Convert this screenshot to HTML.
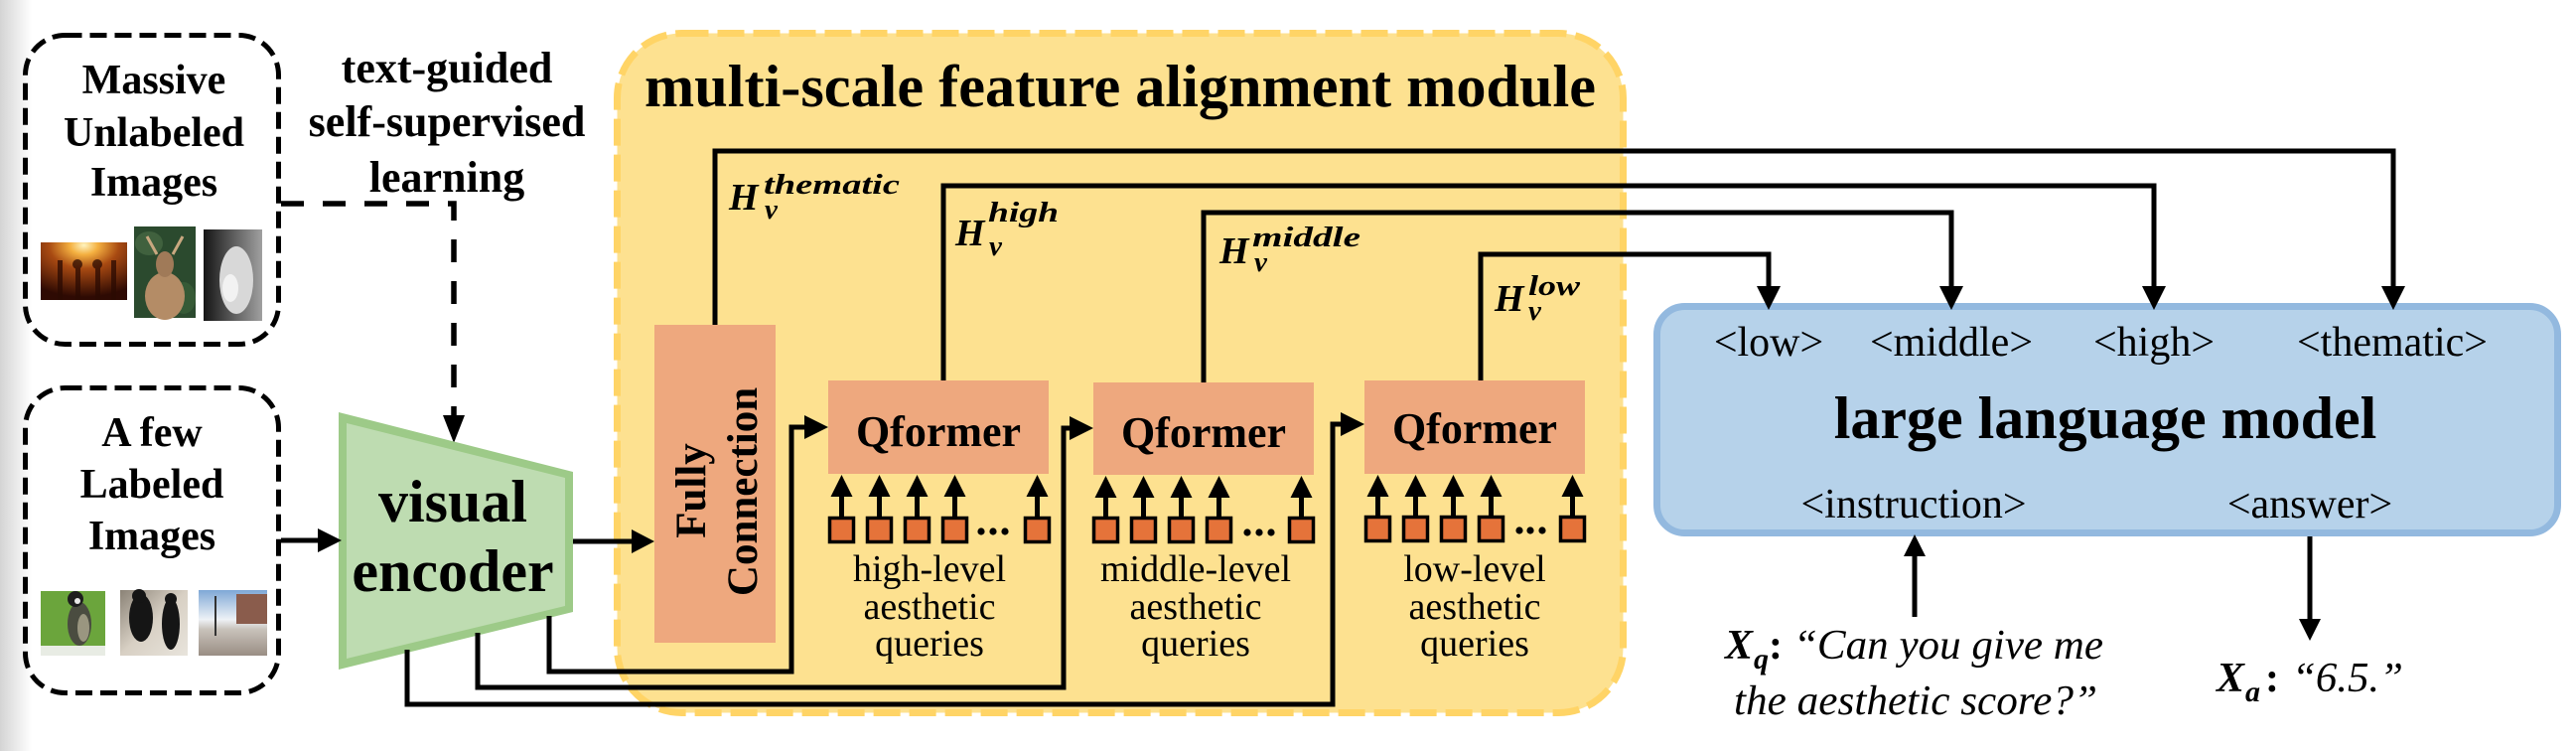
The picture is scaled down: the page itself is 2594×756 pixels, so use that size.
<!DOCTYPE html>
<html>
<head>
<meta charset="utf-8">
<style>
html,body{margin:0;padding:0;background:#fff;}
svg{display:block;font-family:"Liberation Serif","Times New Roman",serif;}
text{font-family:"Liberation Serif","Times New Roman",serif;fill:#000;}
.b{font-weight:bold;}
.bi{font-weight:bold;font-style:italic;}
.i{font-style:italic;}
</style>
</head>
<body>
<svg width="2594" height="756" viewBox="0 0 2594 756" xmlns="http://www.w3.org/2000/svg" font-family="Liberation Serif, serif">
<defs>
  <linearGradient id="lg" x1="0" x2="1" y1="0" y2="0">
    <stop offset="0" stop-color="#d4d4d4"/>
    <stop offset="1" stop-color="#ffffff"/>
  </linearGradient>
  <radialGradient id="img1g" cx="0.5" cy="0.05" r="0.9">
    <stop offset="0" stop-color="#fff4c0"/>
    <stop offset="0.18" stop-color="#f4b040"/>
    <stop offset="0.45" stop-color="#a84a12"/>
    <stop offset="1" stop-color="#2e0a03"/>
  </radialGradient>
  <linearGradient id="img3g" x1="0" x2="1" y1="0" y2="0">
    <stop offset="0" stop-color="#151515"/>
    <stop offset="0.6" stop-color="#6a6a6a"/>
    <stop offset="1" stop-color="#a0a0a0"/>
  </linearGradient>
  <linearGradient id="streetg" x1="0" x2="0" y1="0" y2="1">
    <stop offset="0" stop-color="#7fa8d6"/>
    <stop offset="0.45" stop-color="#eef2f6"/>
    <stop offset="0.6" stop-color="#c8c2ba"/>
    <stop offset="1" stop-color="#9a8e84"/>
  </linearGradient>
  <linearGradient id="peopleg" x1="0" x2="1" y1="0" y2="1">
    <stop offset="0" stop-color="#8a8276"/>
    <stop offset="0.5" stop-color="#d8d0c4"/>
    <stop offset="1" stop-color="#e8e4dc"/>
  </linearGradient>
</defs>

<rect width="2594" height="756" fill="#fff"/>
<rect x="0" y="0" width="32" height="756" fill="url(#lg)"/>

<!-- Left dashed boxes -->
<rect x="25.5" y="35.5" width="255" height="311" rx="40" fill="none" stroke="#000" stroke-width="5" stroke-dasharray="17 8"/>
<rect x="25.5" y="390.5" width="255" height="307" rx="40" fill="none" stroke="#000" stroke-width="5" stroke-dasharray="17 8"/>

<text class="b" x="155" y="94" font-size="42" text-anchor="middle">Massive</text>
<text class="b" x="155" y="147" font-size="42" text-anchor="middle">Unlabeled</text>
<text class="b" x="155" y="197" font-size="42" text-anchor="middle">Images</text>

<text class="b" x="153" y="449" font-size="42" text-anchor="middle">A few</text>
<text class="b" x="153" y="501" font-size="42" text-anchor="middle">Labeled</text>
<text class="b" x="153" y="553" font-size="42" text-anchor="middle">Images</text>

<!-- images box1 -->
<rect x="41" y="244" width="87" height="58" fill="url(#img1g)"/>
<g fill="#2a0a02" opacity="0.75">
  <rect x="58" y="262" width="5" height="40"/>
  <circle cx="78" cy="266" r="5"/><rect x="76" y="270" width="5" height="32"/>
  <circle cx="98" cy="266" r="5"/><rect x="96" y="270" width="5" height="32"/>
  <rect x="112" y="262" width="5" height="40"/>
</g>
<rect x="135" y="228" width="62" height="92" fill="#2b4a2e"/>
<ellipse cx="150" cy="245" rx="14" ry="12" fill="#40613e"/>
<ellipse cx="185" cy="300" rx="12" ry="16" fill="#365a36"/>
<ellipse cx="166" cy="298" rx="20" ry="24" fill="#b48c66"/>
<ellipse cx="166" cy="266" rx="9" ry="13" fill="#a07a58"/>
<path d="M158 256 L148 238 M174 256 L184 238" stroke="#c9a880" stroke-width="3"/>
<rect x="205" y="231" width="59" height="92" fill="url(#img3g)"/>
<ellipse cx="238" cy="282" rx="17" ry="34" fill="#d8d8d8"/>
<ellipse cx="232" cy="290" rx="8" ry="14" fill="#f2f2f2"/>

<!-- images box2 -->
<rect x="41" y="595" width="65" height="65" fill="#6ba53c"/>
<rect x="41" y="650" width="65" height="10" fill="#e8ece4"/>
<ellipse cx="80" cy="628" rx="12" ry="22" fill="#4a4c40"/>
<ellipse cx="84" cy="632" rx="6" ry="14" fill="#9a9680"/>
<circle cx="76" cy="603" r="8" fill="#1e1e1e"/>
<circle cx="78" cy="605" r="3" fill="#e8e8e8"/>
<rect x="121" y="594" width="68" height="66" fill="url(#peopleg)"/>
<ellipse cx="142" cy="622" rx="12" ry="24" fill="#151515"/>
<circle cx="140" cy="600" r="7" fill="#151515"/>
<ellipse cx="172" cy="628" rx="9" ry="26" fill="#151515"/>
<circle cx="172" cy="603" r="6" fill="#151515"/>
<rect x="200" y="594" width="69" height="66" fill="url(#streetg)"/>
<rect x="238" y="598" width="31" height="30" fill="#8a5c4c"/>
<rect x="216" y="600" width="2" height="40" fill="#333"/>

<!-- text-guided label -->
<text class="b" x="450" y="83" font-size="44" text-anchor="middle">text-guided</text>
<text class="b" x="450" y="137" font-size="44" text-anchor="middle">self-supervised</text>
<text class="b" x="450" y="193" font-size="44" text-anchor="middle">learning</text>

<!-- dashed connector -->
<path d="M283 205 H457 V420" fill="none" stroke="#000" stroke-width="5.5" stroke-dasharray="23 19"/>
<polygon points="446,418 468,418 457,446" fill="#000"/>

<!-- visual encoder -->
<polygon points="341,415 577,475 577,616 341,674" fill="#9dca88"/>
<polygon points="349,426 569,481 569,610 349,663" fill="#bedcb1"/>
<text class="b" x="456" y="525" font-size="60" text-anchor="middle">visual</text>
<text class="b" x="456" y="595" font-size="60" text-anchor="middle">encoder</text>

<!-- arrow box2 -> encoder -->
<line x1="283" y1="544" x2="322" y2="544" stroke="#000" stroke-width="5"/>
<polygon points="320,532 320,556 344,544" fill="#000"/>

<!-- Yellow module -->
<rect x="621.5" y="33.5" width="1013" height="684" rx="65" fill="#fde190" stroke="#ffd466" stroke-width="7" stroke-dasharray="27 9"/>
<text class="b" x="649" y="107" font-size="60" textLength="958" lengthAdjust="spacingAndGlyphs">multi-scale feature alignment module</text>

<!-- arrow encoder -> FC -->
<line x1="577" y1="545" x2="638" y2="545" stroke="#000" stroke-width="5"/>
<polygon points="636,533 636,557 659,545" fill="#000"/>

<!-- FC box -->
<rect x="659" y="327" width="122" height="320" fill="#eea87e"/>
<text class="b" font-size="43" text-anchor="middle" transform="translate(710,494) rotate(-90)">Fully</text>
<text class="b" font-size="43" text-anchor="middle" transform="translate(762,495) rotate(-90)">Connection</text>

<!-- Qformers -->
<rect x="834" y="383" width="222" height="94" fill="#eea87e"/>
<rect x="1101" y="385" width="222" height="93" fill="#eea87e"/>
<rect x="1374" y="383" width="222" height="94" fill="#eea87e"/>
<text class="b" x="945" y="449" font-size="44" text-anchor="middle">Qformer</text>
<text class="b" x="1212" y="450" font-size="44" text-anchor="middle">Qformer</text>
<text class="b" x="1485" y="446" font-size="44" text-anchor="middle">Qformer</text>

<!-- query squares and arrows -->
<g fill="#e5733a" stroke="#000" stroke-width="3.5">
  <rect x="835.5" y="521.5" width="24" height="24"/>
  <rect x="873.5" y="521.5" width="24" height="24"/>
  <rect x="911.5" y="521.5" width="24" height="24"/>
  <rect x="949.5" y="521.5" width="24" height="24"/>
  <rect x="1032.5" y="521.5" width="24" height="24"/>
  <rect x="1101.5" y="521.5" width="24" height="24"/>
  <rect x="1139.5" y="521.5" width="24" height="24"/>
  <rect x="1177.5" y="521.5" width="24" height="24"/>
  <rect x="1215.5" y="521.5" width="24" height="24"/>
  <rect x="1298.5" y="521.5" width="24" height="24"/>
  <rect x="1375.5" y="520.5" width="24" height="24"/>
  <rect x="1413.5" y="520.5" width="24" height="24"/>
  <rect x="1451.5" y="520.5" width="24" height="24"/>
  <rect x="1489.5" y="520.5" width="24" height="24"/>
  <rect x="1571.5" y="520.5" width="24" height="24"/>
</g>
<g stroke="#000" stroke-width="5">
  <line x1="847.5" y1="520" x2="847.5" y2="498"/>
  <line x1="885.5" y1="520" x2="885.5" y2="498"/>
  <line x1="923.5" y1="520" x2="923.5" y2="498"/>
  <line x1="961.5" y1="520" x2="961.5" y2="498"/>
  <line x1="1044.5" y1="520" x2="1044.5" y2="498"/>
  <line x1="1113.5" y1="520" x2="1113.5" y2="498"/>
  <line x1="1151.5" y1="520" x2="1151.5" y2="498"/>
  <line x1="1189.5" y1="520" x2="1189.5" y2="498"/>
  <line x1="1227.5" y1="520" x2="1227.5" y2="498"/>
  <line x1="1310.5" y1="520" x2="1310.5" y2="498"/>
  <line x1="1387.5" y1="519" x2="1387.5" y2="498"/>
  <line x1="1425.5" y1="519" x2="1425.5" y2="498"/>
  <line x1="1463.5" y1="519" x2="1463.5" y2="498"/>
  <line x1="1501.5" y1="519" x2="1501.5" y2="498"/>
  <line x1="1583.5" y1="519" x2="1583.5" y2="498"/>
</g>
<g fill="#000">
  <polygon points="836.5,500 858.5,500 847.5,478"/>
  <polygon points="874.5,500 896.5,500 885.5,478"/>
  <polygon points="912.5,500 934.5,500 923.5,478"/>
  <polygon points="950.5,500 972.5,500 961.5,478"/>
  <polygon points="1033.5,500 1055.5,500 1044.5,478"/>
  <polygon points="1102.5,501 1124.5,501 1113.5,479"/>
  <polygon points="1140.5,501 1162.5,501 1151.5,479"/>
  <polygon points="1178.5,501 1200.5,501 1189.5,479"/>
  <polygon points="1216.5,501 1238.5,501 1227.5,479"/>
  <polygon points="1299.5,501 1321.5,501 1310.5,479"/>
  <polygon points="1376.5,500 1398.5,500 1387.5,478"/>
  <polygon points="1414.5,500 1436.5,500 1425.5,478"/>
  <polygon points="1452.5,500 1474.5,500 1463.5,478"/>
  <polygon points="1490.5,500 1512.5,500 1501.5,478"/>
  <polygon points="1572.5,500 1594.5,500 1583.5,478"/>
  <circle cx="988" cy="535" r="3.6"/><circle cx="1000" cy="535" r="3.6"/><circle cx="1012" cy="535" r="3.6"/>
  <circle cx="1256" cy="536" r="3.6"/><circle cx="1268" cy="536" r="3.6"/><circle cx="1280" cy="536" r="3.6"/>
  <circle cx="1530" cy="534" r="3.6"/><circle cx="1541" cy="534" r="3.6"/><circle cx="1553" cy="534" r="3.6"/>
</g>

<!-- query labels -->
<text x="936" y="585" font-size="38" text-anchor="middle">high-level</text>
<text x="936" y="623" font-size="38" text-anchor="middle">aesthetic</text>
<text x="936" y="660" font-size="38" text-anchor="middle">queries</text>
<text x="1204" y="585" font-size="38" text-anchor="middle">middle-level</text>
<text x="1204" y="623" font-size="38" text-anchor="middle">aesthetic</text>
<text x="1204" y="660" font-size="38" text-anchor="middle">queries</text>
<text x="1485" y="585" font-size="38" text-anchor="middle">low-level</text>
<text x="1485" y="623" font-size="38" text-anchor="middle">aesthetic</text>
<text x="1485" y="660" font-size="38" text-anchor="middle">queries</text>

<!-- encoder -> Qformer connectors -->
<g fill="none" stroke="#000" stroke-width="5" stroke-linejoin="miter">
  <path d="M553 620 V676 H797 V430 H812"/>
  <path d="M481 637 V692 H1071 V431 H1079"/>
  <path d="M410 654 V709 H1342 V427 H1352"/>
</g>
<g fill="#000">
  <polygon points="810,418 810,442 834,430"/>
  <polygon points="1077,419 1077,443 1101,431"/>
  <polygon points="1350,415 1350,439 1374,427"/>
</g>

<!-- LLM box -->
<rect x="1668.5" y="308.5" width="907" height="228" rx="28" fill="#b6d2ea" stroke="#93b9df" stroke-width="7"/>

<!-- top connectors -->
<g fill="none" stroke="#000" stroke-width="5" stroke-linejoin="miter">
  <path d="M720 327 V152 H2410 V290"/>
  <path d="M950 383 V187 H2169 V290"/>
  <path d="M1212 385 V214 H1965 V290"/>
  <path d="M1491 383 V256 H1781 V290"/>
</g>
<g fill="#000">
  <polygon points="2398,288 2422,288 2410,312"/>
  <polygon points="2157,288 2181,288 2169,312"/>
  <polygon points="1953,288 1977,288 1965,312"/>
  <polygon points="1769,288 1793,288 1781,312"/>
</g>

<!-- H labels -->
<text class="bi" x="734" y="211" font-size="38">H</text>
<text class="bi" x="769" y="195" font-size="29" textLength="137" lengthAdjust="spacingAndGlyphs">thematic</text>
<text class="bi" x="770" y="220" font-size="29">v</text>

<text class="bi" x="962" y="247" font-size="38">H</text>
<text class="bi" x="995" y="223" font-size="29" textLength="71" lengthAdjust="spacingAndGlyphs">high</text>
<text class="bi" x="996" y="257" font-size="29">v</text>

<text class="bi" x="1228" y="265" font-size="38">H</text>
<text class="bi" x="1261" y="248" font-size="29" textLength="109" lengthAdjust="spacingAndGlyphs">middle</text>
<text class="bi" x="1263" y="273" font-size="29">v</text>

<text class="bi" x="1505" y="313" font-size="38">H</text>
<text class="bi" x="1539" y="297" font-size="29" textLength="52" lengthAdjust="spacingAndGlyphs">low</text>
<text class="bi" x="1539" y="322" font-size="29">v</text>

<!-- LLM texts -->
<text x="1781" y="358" font-size="42" text-anchor="middle">&lt;low&gt;</text>
<text x="1965" y="358" font-size="42" text-anchor="middle">&lt;middle&gt;</text>
<text x="2169" y="358" font-size="42" text-anchor="middle">&lt;high&gt;</text>
<text x="2409" y="358" font-size="42" text-anchor="middle">&lt;thematic&gt;</text>
<text class="b" x="2120" y="441" font-size="60" text-anchor="middle">large language model</text>
<text x="1927" y="521" font-size="42" text-anchor="middle">&lt;instruction&gt;</text>
<text x="2326" y="521" font-size="42" text-anchor="middle">&lt;answer&gt;</text>

<!-- instruction / answer arrows -->
<line x1="1928" y1="621" x2="1928" y2="558" stroke="#000" stroke-width="5"/>
<polygon points="1917,560 1939,560 1928,538" fill="#000"/>
<line x1="2326" y1="540" x2="2326" y2="625" stroke="#000" stroke-width="5"/>
<polygon points="2315,623 2337,623 2326,645" fill="#000"/>

<!-- Xq / Xa -->
<text class="bi" x="1737" y="663" font-size="42">X</text>
<text class="bi" x="1766" y="673" font-size="30">q</text>
<text class="b" x="1781" y="663" font-size="42">:</text>
<text class="i" x="1806" y="663" font-size="42" textLength="312" lengthAdjust="spacingAndGlyphs">“Can you give me</text>
<text class="i" x="1746" y="719" font-size="42" textLength="366" lengthAdjust="spacingAndGlyphs">the aesthetic score?”</text>

<text class="bi" x="2232" y="696" font-size="42">X</text>
<text class="bi" x="2261" y="706" font-size="30">a</text>
<text class="b" x="2281" y="696" font-size="42">:</text>
<text class="i" x="2308" y="696" font-size="42" textLength="112" lengthAdjust="spacingAndGlyphs">“6.5.”</text>
</svg>
</body>
</html>
